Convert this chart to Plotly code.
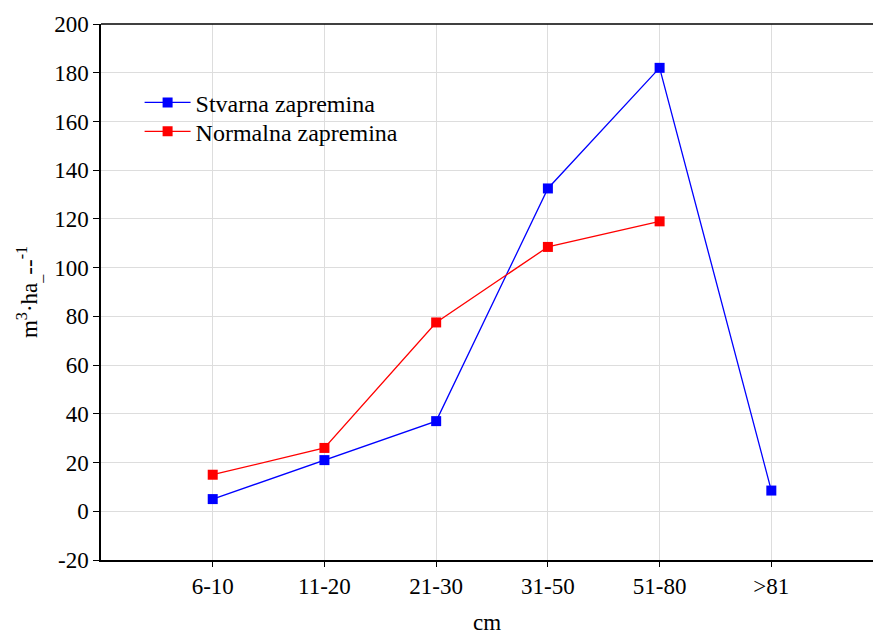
import plotly.graph_objects as go

categories = ["6-10", "11-20", "21-30", "31-50", "51-80", ">81"]
stvarna = [5, 21, 37, 132.5, 182, 8.5]
normalna = [15, 26, 77.5, 108.5, 119]
y_ticks = list(range(-20, 201, 20))

xpos = list(range(len(categories)))
font_family = "Liberation Serif"

fig = go.Figure()
fig.add_trace(go.Scatter(
    x=xpos, y=stvarna, mode="lines+markers", name="Stvarna zapremina",
    line=dict(color="#0000ff", width=1.3),
    marker=dict(symbol="square", size=10, color="#0000ff"),
    legend="legend",
))
fig.add_trace(go.Scatter(
    x=xpos[:len(normalna)], y=normalna, mode="lines+markers", name="Normalna zapremina",
    line=dict(color="#ff0000", width=1.3),
    marker=dict(symbol="square", size=10, color="#ff0000"),
    legend="legend2",
))

legend_style = dict(
    x=0.05, xanchor="left", yanchor="middle",
    bgcolor="rgba(0,0,0,0)", borderwidth=0,
    font=dict(family=font_family, size=24), itemwidth=46,
)

fig.update_layout(
    width=873, height=635,
    margin=dict(l=101, r=0, t=24, b=75),
    paper_bgcolor="white", plot_bgcolor="white",
    font=dict(family=font_family, size=23, color="black"),
    showlegend=True,
    legend=dict(y=0.853, **legend_style),
    legend2=dict(y=0.799, **legend_style),
    xaxis=dict(
        range=[-1, 5.91], tickmode="array", tickvals=xpos, ticktext=categories,
        tickfont=dict(family=font_family, size=23),
        showgrid=True, gridcolor="#dddddd", gridwidth=1,
        showline=True, linecolor="black", linewidth=1.5, mirror=False,
        ticks="outside", ticklen=5, tickcolor="black",
        zeroline=False,
        title=dict(text="cm", standoff=18, font=dict(family=font_family, size=23)),
    ),
    yaxis=dict(
        range=[-20, 200], tickmode="array", tickvals=y_ticks,
        ticktext=[str(v) for v in y_ticks],
        tickfont=dict(family=font_family, size=23),
        showgrid=True, gridcolor="#dddddd", gridwidth=1,
        showline=True, linecolor="black", linewidth=1.5,
        ticks="outside", ticklen=6, tickcolor="black",
        zeroline=False,
        title=dict(text="m<sup>3</sup>·ha<sub>_</sub>--<sup>-1</sup>", standoff=10,
                   font=dict(family=font_family, size=23)),
    ),
)

# top frame line
fig.add_shape(type="line", xref="paper", yref="paper", x0=0, x1=1, y0=1, y1=1,
              line=dict(color="black", width=1.5))

fig.write_html("out.html")
